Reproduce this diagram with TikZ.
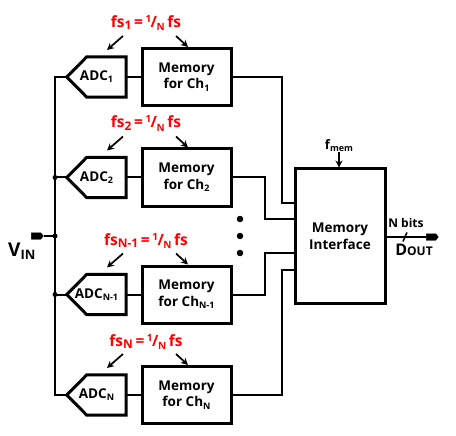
\documentclass[tikz,border=0pt]{standalone}
\usepackage{fontspec}
\setmainfont{Open Sans}
\usetikzlibrary{shapes.symbols,arrows.meta}
\newcommand{\lowsub}[1]{\raisebox{-0.3ex}{\fontsize{9}{9}\selectfont #1}}
\newcommand{\redlab}[1]{fs\raisebox{-0.3ex}{\fontsize{12}{12}\selectfont #1}\,=\,\raisebox{0.55ex}{\fontsize{10}{10}\selectfont 1}\kern-0.5pt/\kern-0.5pt\raisebox{-0.45ex}{\fontsize{10}{10}\selectfont N}\,fs}
\begin{document}
\begin{tikzpicture}[x=1pt,y=-1pt,
  membox/.style={draw,line width=3pt,minimum width=89pt,minimum height=57pt,inner sep=0pt,align=center,font=\fontsize{13.5}{16.5}\selectfont\bfseries},
  adcbox/.style={minimum width=59pt,minimum height=40pt,inner sep=0pt,font=\fontsize{13.5}{16}\selectfont\bfseries},
  adcline/.style={line width=3pt,line join=miter},
  wire/.style={line width=2pt},
  redtxt/.style={text=red,font=\fontsize{15.5}{17}\selectfont\bfseries,inner sep=0pt},
  arr/.style={line width=1.7pt,-{Stealth[length=7pt,width=7pt]}},
  term/.style={signal,signal to=east,fill=black,draw=black,minimum width=12pt,minimum height=6.5pt,inner sep=0pt,signal pointer angle=100},
  jdot/.style={circle,fill=black,inner sep=0pt,minimum size=5pt},
  bigdot/.style={circle,fill=black,inner sep=0pt,minimum size=6.5pt}]
\useasboundingbox (0,0) rectangle (456,436);
% ADCs and memories
\node[adcbox] (adc1) at (96.5,77) {ADC\lowsub{1}};
\node[membox] (mem1) at (186.5,77) {Memory\\for Ch\lowsub{1}};
\node[adcbox] (adc2) at (96.5,177.5) {ADC\lowsub{2}};
\node[membox] (mem2) at (186.5,177.5) {Memory\\for Ch\lowsub{2}};
\node[adcbox] (adc3) at (96.5,294.5) {ADC\lowsub{N-1}};
\node[membox] (mem3) at (186.5,294.5) {Memory\\for Ch\lowsub{N-1}};
\node[adcbox] (adc4) at (96.5,395) {ADC\lowsub{N}};
\node[membox] (mem4) at (186.5,395) {Memory\\for Ch\lowsub{N}};
\foreach \a in {adc1,adc2,adc3,adc4}{
  \draw[adcline] (\a.west) -- ([xshift=20pt]\a.north west) -- (\a.north east) -- (\a.south east) -- ([xshift=20pt]\a.south west) -- cycle;
}
% interface
\node[membox,minimum width=90pt,minimum height=134pt] (mi) at (340,236) {Memory\\Interface};
% ADC to memory
\draw[wire] (adc1.east) -- (mem1.west);
\draw[wire] (adc2.east) -- (mem2.west);
\draw[wire] (adc3.east) -- (mem3.west);
\draw[wire] (adc4.east) -- (mem4.west);
% bus
\coordinate (j2) at (55,177.5);
\coordinate (jv) at (55,236);
\coordinate (j3) at (55,294.5);
\draw[wire] (adc1.west) -| (jv) |- (adc4.west);
\draw[wire] (j2) -- (adc2.west);
\draw[wire] (j3) -- (adc3.west);
\node[jdot] at (j2) {};
\node[jdot] at (jv) {};
\node[jdot] at (j3) {};
% VIN
\node[term] (vin) at (36,236) {};
\draw[wire] (vin.east) -- (jv);
\node[inner sep=0pt,anchor=base west] (vinl) at (8,256) {\fontsize{19}{20}\selectfont\bfseries V\raisebox{-0.35ex}{\fontsize{13}{13}\selectfont IN}};
% memory to interface
\draw[wire] (mem1.east) -- (282,77) -- (282,203) -- (mi.west |- 282,203);
\draw[wire] (mem2.east) -- (265,177.5) -- (265,219) -- (mi.west |- 265,219);
\draw[wire] (mem3.east) -- (265,294.5) -- (265,253) -- (mi.west |- 265,253);
\draw[wire] (mem4.east) -- (282,395) -- (282,270) -- (mi.west |- 282,270);
% dots
\node[bigdot] (d1) at (240,219) {};
\node[bigdot] (d2) at (240,236) {};
\node[bigdot] (d3) at (240,253) {};
% fmem
\node[inner sep=0pt] (fmem) at (339,146) {\fontsize{13}{14}\selectfont\bfseries f\raisebox{-0.3ex}{\fontsize{9}{9}\selectfont mem}};
\draw[arr] (fmem.south) -- (mi.north -| fmem.south);
% output
\node[term] (dout) at (431,237) {};
\draw[wire] (mi.east |- dout.west) -- (dout.west);
\coordinate (s1) at (403,241.5);
\coordinate (s2) at (407,232.5);
\draw[line width=1.5pt] (s1) -- (s2);
\node[inner sep=0pt] (nbits) at (406,223) {\fontsize{12}{13}\selectfont\bfseries N bits};
\node[inner sep=0pt,anchor=base] (doutl) at (414,255) {\fontsize{16}{17}\selectfont\bfseries D\fontsize{12}{13}\selectfont OUT};
% red labels and arrows
\node[redtxt] (l1) at (146,23) {\redlab{1}};
\node[redtxt] (l2) at (146,123.5) {\redlab{2}};
\node[redtxt] (l3) at (146,241) {\redlab{N-1}};
\node[redtxt] (l4) at (146,342) {\redlab{N}};
\foreach \k/\c in {1/77,2/177.5,3/294.5,4/395}{
  \coordinate (la\k) at (123,\c-41);
  \coordinate (lb\k) at (107,\c-27);
  \coordinate (ra\k) at (176,\c-41);
  \coordinate (rb\k) at (188,\c-30);
  \draw[arr] (la\k) -- (lb\k);
  \draw[arr] (ra\k) -- (rb\k);
}
\end{tikzpicture}
\end{document}
